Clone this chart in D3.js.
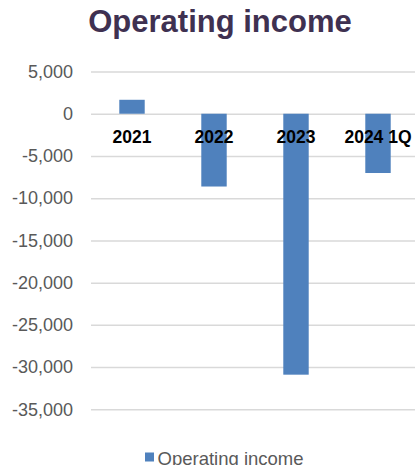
<!DOCTYPE html>
<html>
<head>
<meta charset="utf-8">
<script src="https://cdn.jsdelivr.net/npm/d3@7"></script>
<style>
  body { margin: 0; background: #fff; }
  svg { display: block; font-family: "Liberation Sans", Arial, sans-serif; }
</style>
</head>
<body>
<svg id="chart"></svg>
<script>
let categories = ['2021', '2022', '2023', '2024 1Q'];
let values = [1650, -8620, -30900, -7020];
let yTicks = [5000, 0, -5000, -10000, -15000, -20000, -25000, -30000, -35000];
let seriesName = 'Operating income';

let svgWidth = 415, svgHeight = 465;

let svg = d3.select('#chart')
            .attr('width', svgWidth)
            .attr('height', svgHeight);

let x = d3.scaleBand()
          .domain(categories)
          .range([91, 419])
          .paddingInner(0.69)
          .paddingOuter(0.345);

let y = d3.scaleLinear()
          .domain([-35000, 5000])
          .range([409.3, 71.5]);

// title
svg.append('text')
   .attr('x', 220)
   .attr('y', 32)
   .attr('text-anchor', 'middle')
   .attr('font-size', 31)
   .attr('font-weight', 'bold')
   .attr('fill', '#3f3151')
   .text('Operating income');

// gridlines + tick labels (plain hyphen for negatives, like the original)
let fmt = d3.format(',');
let yAxis = d3.axisLeft(y)
              .tickValues(yTicks)
              .tickSize(-(419 - 91))
              .tickPadding(18)
              .tickFormat(d => fmt(d).replace('\u2212', '-'));

let gy = svg.append('g')
            .attr('transform', 'translate(91,0)')
            .call(yAxis);
gy.select('.domain').remove();
gy.selectAll('.tick line').attr('stroke', '#d9d9d9').attr('stroke-width', 1.5);
gy.selectAll('.tick text')
  .attr('fill', '#595959')
  .attr('font-size', 18)
  .attr('font-family', '"Liberation Sans", Arial, sans-serif');

// bars
svg.selectAll('rect.bar')
   .data(values)
   .enter()
   .append('rect')
   .attr('class', 'bar')
   .attr('x', (d, i) => x(categories[i]))
   .attr('width', x.bandwidth())
   .attr('y', d => y(Math.max(0, d)))
   .attr('height', d => Math.abs(y(d) - y(0)))
   .attr('fill', '#4f81bd');

// category labels sit just under the zero line
svg.selectAll('text.cat')
   .data(categories)
   .enter()
   .append('text')
   .attr('class', 'cat')
   .attr('x', d => x(d) + x.bandwidth() / 2)
   .attr('y', y(0) + 29)
   .attr('text-anchor', 'middle')
   .attr('font-size', 17.5)
   .attr('font-weight', 'bold')
   .attr('fill', '#000')
   .text(d => d);

// legend
let legend = svg.append('g');
legend.append('rect')
      .attr('x', 145)
      .attr('y', 452.5)
      .attr('width', 9)
      .attr('height', 9)
      .attr('fill', '#4f81bd');
legend.append('text')
      .attr('x', 157.5)
      .attr('y', 465)
      .attr('font-size', 18.5)
      .attr('fill', '#595959')
      .text(seriesName);
</script>
</body>
</html>
